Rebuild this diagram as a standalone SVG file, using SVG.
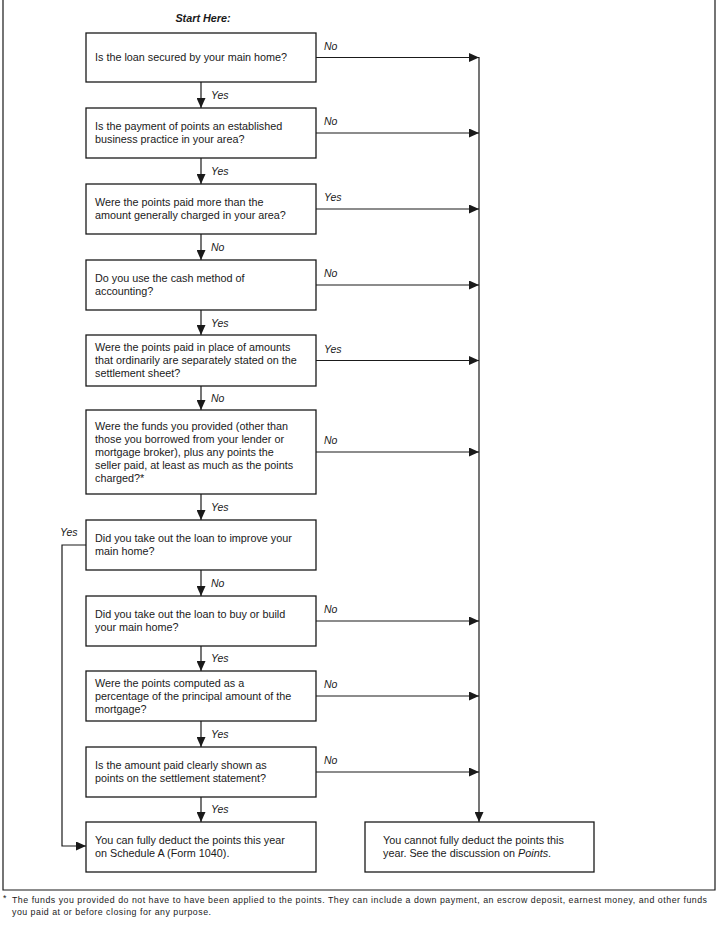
<svg xmlns="http://www.w3.org/2000/svg" width="724" height="928" viewBox="0 0 724 928">
<defs>
<marker id="ah" markerUnits="userSpaceOnUse" markerWidth="10" markerHeight="9" refX="10" refY="4.5" orient="auto">
<path d="M0,0 L10,4.5 L0,9 z" fill="#1a1a1a"/>
</marker>
</defs>
<style>
.box{fill:#fff;stroke:#1a1a1a;stroke-width:1.3}
.t{font-family:"Liberation Sans",Arial,sans-serif;font-size:10.8px;fill:#1a1a1a}
.l{font-family:"Liberation Sans",Arial,sans-serif;font-size:10.5px;font-style:italic;fill:#1a1a1a}
.c{fill:none;stroke:#1a1a1a;stroke-width:1.2}
.a{fill:none;stroke:#1a1a1a;stroke-width:1.2;marker-end:url(#ah)}
.fn{font-family:"Liberation Sans",Arial,sans-serif;font-size:8.8px;fill:#1a1a1a}
</style>
<rect width="724" height="928" fill="#fff"/>
<path class="c" d="M3,0 V890 H715 V0"/>
<text x="203" y="22" class="t" text-anchor="middle" font-weight="bold" font-style="italic">Start Here:</text>

<g id="connectors">
<line class="a" x1="201" y1="82" x2="201" y2="108"/>
<line class="a" x1="201" y1="158" x2="201" y2="184"/>
<line class="a" x1="201" y1="234" x2="201" y2="260"/>
<line class="a" x1="201" y1="310" x2="201" y2="335"/>
<line class="a" x1="201" y1="386" x2="201" y2="410"/>
<line class="a" x1="201" y1="494" x2="201" y2="520"/>
<line class="a" x1="201" y1="570" x2="201" y2="596"/>
<line class="a" x1="201" y1="646" x2="201" y2="671"/>
<line class="a" x1="201" y1="721" x2="201" y2="747"/>
<line class="a" x1="201" y1="797" x2="201" y2="822"/>
<text class="l" x="211" y="99">Yes</text>
<text class="l" x="211" y="175">Yes</text>
<text class="l" x="211" y="251">No</text>
<text class="l" x="211" y="327">Yes</text>
<text class="l" x="211" y="402">No</text>
<text class="l" x="211" y="511">Yes</text>
<text class="l" x="211" y="587">No</text>
<text class="l" x="211" y="662">Yes</text>
<text class="l" x="211" y="738">Yes</text>
<text class="l" x="211" y="813">Yes</text>
<line class="a" x1="316" y1="57.5" x2="479" y2="57.5"/>
<line class="a" x1="316" y1="133" x2="479" y2="133"/>
<line class="a" x1="316" y1="209" x2="479" y2="209"/>
<line class="a" x1="316" y1="285" x2="479" y2="285"/>
<line class="a" x1="316" y1="360.5" x2="479" y2="360.5"/>
<line class="a" x1="316" y1="452" x2="479" y2="452"/>
<line class="a" x1="316" y1="621" x2="479" y2="621"/>
<line class="a" x1="316" y1="696" x2="479" y2="696"/>
<line class="a" x1="316" y1="772" x2="479" y2="772"/>
<text class="l" x="324" y="49.5">No</text>
<text class="l" x="324" y="125">No</text>
<text class="l" x="324" y="201">Yes</text>
<text class="l" x="324" y="277">No</text>
<text class="l" x="324" y="352.5">Yes</text>
<text class="l" x="324" y="444">No</text>
<text class="l" x="324" y="613">No</text>
<text class="l" x="324" y="688">No</text>
<text class="l" x="324" y="764">No</text>
<line class="a" x1="479" y1="57" x2="479" y2="822"/>
<path class="a" d="M86,545 H62 V846 H86"/>
<text class="l" x="60" y="536">Yes</text>
</g>

<g id="n1"><rect class="box" x="86" y="33" width="230" height="49"/>
<text class="t" x="95" y="61.3">Is the loan secured by your main home?</text></g>
<g id="n2"><rect class="box" x="86" y="108" width="230" height="50"/>
<text class="t" x="95" y="130.3">Is the payment of points an established</text>
<text class="t" x="95" y="143.3">business practice in your area?</text></g>
<g id="n3"><rect class="box" x="86" y="184" width="230" height="50"/>
<text class="t" x="95" y="206.3">Were the points paid more than the</text>
<text class="t" x="95" y="219.3">amount generally charged in your area?</text></g>
<g id="n4"><rect class="box" x="86" y="260" width="230" height="50"/>
<text class="t" x="95" y="282.3">Do you use the cash method of</text>
<text class="t" x="95" y="295.3">accounting?</text></g>
<g id="n5"><rect class="box" x="86" y="335" width="230" height="51"/>
<text class="t" x="95" y="351.3">Were the points paid in place of amounts</text>
<text class="t" x="95" y="364.3">that ordinarily are separately stated on the</text>
<text class="t" x="95" y="377.3">settlement sheet?</text></g>
<g id="n6"><rect class="box" x="86" y="410" width="230" height="84"/>
<text class="t" x="95" y="429.8">Were the funds you provided (other than</text>
<text class="t" x="95" y="442.8">those you borrowed from your lender or</text>
<text class="t" x="95" y="455.8">mortgage broker), plus any points the</text>
<text class="t" x="95" y="468.8">seller paid, at least as much as the points</text>
<text class="t" x="95" y="481.8">charged?*</text></g>
<g id="n7"><rect class="box" x="86" y="520" width="230" height="50"/>
<text class="t" x="95" y="542.3">Did you take out the loan to improve your</text>
<text class="t" x="95" y="555.3">main home?</text></g>
<g id="n8"><rect class="box" x="86" y="596" width="230" height="50"/>
<text class="t" x="95" y="618.3">Did you take out the loan to buy or build</text>
<text class="t" x="95" y="631.3">your main home?</text></g>
<g id="n9"><rect class="box" x="86" y="671" width="230" height="50"/>
<text class="t" x="95" y="686.8">Were the points computed as a</text>
<text class="t" x="95" y="699.8">percentage of the principal amount of the</text>
<text class="t" x="95" y="712.8">mortgage?</text></g>
<g id="n10"><rect class="box" x="86" y="747" width="230" height="50"/>
<text class="t" x="95" y="769.3">Is the amount paid clearly shown as</text>
<text class="t" x="95" y="782.3">points on the settlement statement?</text></g>
<g id="n11"><rect class="box" x="86" y="822" width="230" height="50"/>
<text class="t" x="95" y="844.3">You can fully deduct the points this year</text>
<text class="t" x="95" y="857.3">on Schedule A (Form 1040).</text></g>
<g id="n12"><rect class="box" x="365" y="822" width="229" height="50"/>
<text class="t" x="383" y="844.3">You cannot fully deduct the points this</text>
<text class="t" x="383" y="857.3">year. See the discussion on <tspan font-style="italic">Points</tspan>.</text></g>

<g id="footnote">
<text class="fn" x="3" y="901" font-size="6px">*</text>
<text class="fn" x="12" y="903" textLength="695" lengthAdjust="spacing">The funds you provided do not have to have been applied to the points. They can include a down payment, an escrow deposit, earnest money, and other funds</text>
<text class="fn" x="12" y="915" textLength="199" lengthAdjust="spacing">you paid at or before closing for any purpose.</text>
</g>
</svg>
